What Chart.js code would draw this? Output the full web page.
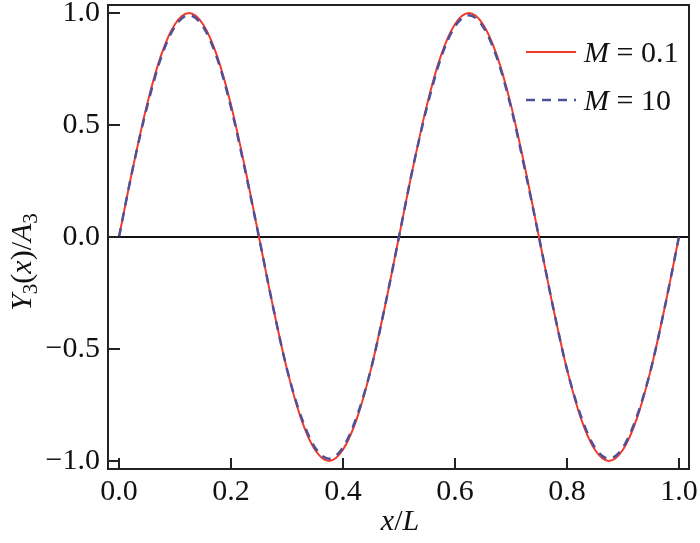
<!DOCTYPE html>
<html>
<head>
<meta charset="utf-8">
<script src="https://cdn.jsdelivr.net/npm/chart.js@4.4.0/dist/chart.umd.min.js"></script>
<style>
  html, body { margin: 0; padding: 0; background: #fff; }
  #wrap { width: 700px; height: 543px; }
</style>
</head>
<body>
<div id="wrap"><canvas id="modeChart" width="700" height="543"></canvas></div>
<script>
// x/L sample positions
const xPos = [0, 0.025, 0.05, 0.075, 0.1, 0.125, 0.15, 0.175, 0.2, 0.225,
  0.25, 0.275, 0.3, 0.325, 0.35, 0.375, 0.4, 0.425, 0.45, 0.475,
  0.5, 0.525, 0.55, 0.575, 0.6, 0.625, 0.65, 0.675, 0.7, 0.725,
  0.75, 0.775, 0.8, 0.825, 0.85, 0.875, 0.9, 0.925, 0.95, 0.975, 1.0];

// Y3(x)/A3
const shapeM01 = [0, 0.31, 0.59, 0.81, 0.95, 1.0, 0.95, 0.81, 0.59, 0.31,
  0, -0.31, -0.59, -0.81, -0.95, -1.0, -0.95, -0.81, -0.59, -0.31,
  0, 0.31, 0.59, 0.81, 0.95, 1.0, 0.95, 0.81, 0.59, 0.31,
  0, -0.31, -0.59, -0.81, -0.95, -1.0, -0.95, -0.81, -0.59, -0.31, 0];
const shapeM10 = [0, 0.31, 0.58, 0.80, 0.94, 0.99, 0.94, 0.80, 0.58, 0.30,
  0, -0.31, -0.59, -0.80, -0.94, -0.99, -0.94, -0.80, -0.59, -0.31,
  0, 0.31, 0.58, 0.80, 0.94, 0.99, 0.94, 0.80, 0.58, 0.30,
  0, -0.31, -0.59, -0.80, -0.94, -0.99, -0.94, -0.80, -0.59, -0.31, 0];

const seriesNames = ['0.1', '10'];
const xTicks = [0, 0.2, 0.4, 0.6, 0.8, 1.0];
const yTicks = [-1.0, -0.5, 0.0, 0.5, 1.0];

const serif = '"Liberation Serif", "DejaVu Serif", serif';
const FS = 30;

function pts(ys) {
  return xPos.map(function(x, i) { return { x: x, y: ys[i] }; });
}

function fmt(v) {
  const s = Math.abs(v).toFixed(1);
  return v < 0 ? '\u2212' + s : s;
}

// draw a run of text pieces: [text, italic, subscript]
function drawRuns(ctx, runs, x, y) {
  let cx = x;
  runs.forEach(function(r) {
    const size = r[2] ? FS * 0.7 : FS;
    ctx.font = (r[1] ? 'italic ' : '') + size + 'px ' + serif;
    ctx.fillText(r[0], cx, r[2] ? y + 6 : y);
    cx += ctx.measureText(r[0]).width;
  });
  return cx - x;
}
function runsWidth(ctx, runs) {
  let w = 0;
  runs.forEach(function(r) {
    const size = r[2] ? FS * 0.7 : FS;
    ctx.font = (r[1] ? 'italic ' : '') + size + 'px ' + serif;
    w += ctx.measureText(r[0]).width;
  });
  return w;
}

const framePlugin = {
  id: 'frame',
  beforeDatasetsDraw: function(chart) {
    const ctx = chart.ctx, a = chart.chartArea;
    const y0 = chart.scales.y.getPixelForValue(0);
    ctx.save();
    ctx.strokeStyle = '#111';
    ctx.lineWidth = 2;
    ctx.beginPath();
    ctx.moveTo(a.left, y0);
    ctx.lineTo(a.right, y0);
    ctx.stroke();
    ctx.restore();
  },
  afterDraw: function(chart) {
    const ctx = chart.ctx, a = chart.chartArea;
    const xs = chart.scales.x, ys = chart.scales.y;
    ctx.save();
    ctx.strokeStyle = '#222';
    ctx.lineWidth = 2;
    ctx.strokeRect(a.left, a.top, a.right - a.left, a.bottom - a.top);

    // inward ticks
    ctx.beginPath();
    xTicks.forEach(function(v) {
      const px = Math.round(xs.getPixelForValue(v));
      ctx.moveTo(px, a.bottom);
      ctx.lineTo(px, a.bottom - 11);
    });
    yTicks.forEach(function(v) {
      const py = Math.round(ys.getPixelForValue(v));
      ctx.moveTo(a.left, py);
      ctx.lineTo(a.left + 12, py);
    });
    ctx.stroke();

    // axis titles
    ctx.fillStyle = '#111';
    ctx.textBaseline = 'alphabetic';
    const xt = [['x', true], ['/', false], ['L', true]];
    drawRuns(ctx, xt, 400 - runsWidth(ctx, xt) / 2, 530);

    const yt = [['Y', true], ['3', false, true], ['(', false], ['x', true], [')', false],
      ['/', false], ['A', true], ['3', false, true]];
    ctx.save();
    ctx.translate(31, 262);
    ctx.rotate(-Math.PI / 2);
    drawRuns(ctx, yt, -runsWidth(ctx, yt) / 2, 0);
    ctx.restore();

    // legend
    const rows = [52, 100];
    chart.data.datasets.forEach(function(ds, i) {
      const y = rows[i];
      ctx.save();
      ctx.strokeStyle = ds.borderColor;
      ctx.lineWidth = ds.borderWidth;
      ctx.setLineDash(ds.borderDash || []);
      ctx.beginPath();
      ctx.moveTo(526, y);
      ctx.lineTo(576, y);
      ctx.stroke();
      ctx.restore();
      ctx.textBaseline = 'middle';
      drawRuns(ctx, [['M', true], [' = ' + seriesNames[i], false]], 584, y + 2);
    });
    ctx.restore();
  }
};

const ctx = document.getElementById('modeChart').getContext('2d');
new Chart(ctx, {
  type: 'line',
  data: {
    datasets: [
      {
        label: 'M = ' + seriesNames[0],
        data: pts(shapeM01),
        borderColor: '#f03a2a',
        borderWidth: 2,
        pointRadius: 0,
        cubicInterpolationMode: 'monotone',
        order: 2
      },
      {
        label: 'M = ' + seriesNames[1],
        data: pts(shapeM10),
        borderColor: '#4f4f9a',
        borderWidth: 2.5,
        borderDash: [9, 7],
        pointRadius: 0,
        cubicInterpolationMode: 'monotone',
        order: 1
      }
    ]
  },
  options: {
    responsive: false,
    animation: false,
    layout: { padding: { top: 5, right: 11, left: 0, bottom: 0 } },
    plugins: { legend: { display: false }, tooltip: { enabled: false } },
    scales: {
      x: {
        type: 'linear',
        min: -0.0196,
        max: 1.018,
        afterFit: function(s) { s.height = 74; s.paddingLeft = 0; s.paddingRight = 0; },
        afterBuildTicks: function(s) { s.ticks = xTicks.map(function(v) { return { value: v }; }); },
        grid: { display: false, drawTicks: false },
        border: { display: false },
        ticks: {
          padding: 5,
          color: '#111',
          maxRotation: 0,
          font: { family: serif, size: FS },
          callback: function(v) { return fmt(v); }
        }
      },
      y: {
        min: -1.036,
        max: 1.036,
        afterFit: function(s) { s.width = 108; s.paddingTop = 0; s.paddingBottom = 0; },
        afterBuildTicks: function(s) { s.ticks = yTicks.map(function(v) { return { value: v }; }); },
        grid: { display: false, drawTicks: false },
        border: { display: false },
        ticks: {
          padding: 8,
          color: '#111',
          font: { family: serif, size: FS },
          callback: function(v) { return fmt(v); }
        }
      }
    }
  },
  plugins: [framePlugin]
});
</script>
</body>
</html>
